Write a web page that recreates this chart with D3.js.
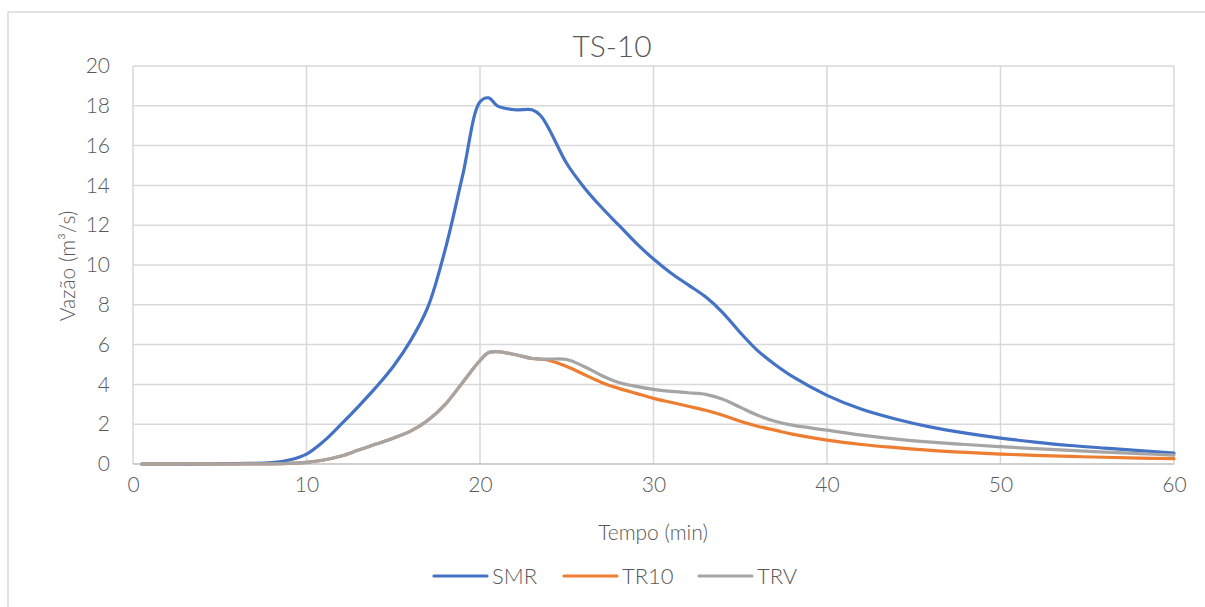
<!DOCTYPE html>
<html>
<head>
<meta charset="utf-8">
<script src="https://cdn.jsdelivr.net/npm/d3@7"></script>
<style>
  html, body { margin: 0; padding: 0; background: #fff; }
  svg { display: block; }
</style>
</head>
<body>
<svg id="chart" width="1205" height="607"></svg>
<script>
// Hydrograph data: time (min) and discharge (m³/s)
const tempo = [0.5, 2, 4, 6, 8, 9, 10, 11, 12, 13, 14, 15, 16, 17, 18, 19, 20, 20.5, 21, 22, 23, 23.5, 24, 25, 26, 27, 28, 29, 30, 31, 32, 33, 34, 35, 36, 37, 38, 40, 42, 44, 46, 48, 50, 52, 54, 56, 58, 60];
const smr  = [0, 0, 0, 0.02, 0.07, 0.2, 0.5, 1.15, 2.0, 2.9, 3.85, 4.9, 6.2, 7.9, 10.8, 14.5, 18.2, 18.4, 18.0, 17.8, 17.8, 17.5, 16.8, 15.1, 13.9, 12.9, 12.0, 11.1, 10.3, 9.6, 9.0, 8.4, 7.6, 6.6, 5.7, 5.0, 4.4, 3.45, 2.75, 2.25, 1.85, 1.55, 1.3, 1.1, 0.93, 0.8, 0.67, 0.55];
const tr10 = [0, 0, 0, 0, 0.01, 0.03, 0.08, 0.2, 0.4, 0.7, 1.0, 1.3, 1.65, 2.2, 3.0, 4.1, 5.2, 5.6, 5.65, 5.5, 5.3, 5.27, 5.2, 4.9, 4.5, 4.1, 3.8, 3.55, 3.3, 3.1, 2.9, 2.7, 2.45, 2.15, 1.9, 1.7, 1.5, 1.2, 0.98, 0.82, 0.68, 0.58, 0.5, 0.43, 0.38, 0.34, 0.3, 0.27];
const trv  = [0, 0, 0, 0, 0.01, 0.03, 0.08, 0.2, 0.4, 0.7, 1.0, 1.3, 1.65, 2.2, 3.0, 4.1, 5.2, 5.6, 5.65, 5.5, 5.3, 5.27, 5.27, 5.25, 4.9, 4.45, 4.1, 3.9, 3.75, 3.65, 3.58, 3.5, 3.25, 2.85, 2.45, 2.15, 1.95, 1.7, 1.45, 1.25, 1.1, 0.98, 0.87, 0.77, 0.68, 0.6, 0.52, 0.45];

const seriesNames = ["SMR", "TR10", "TRV"];
const seriesColors = ["#4472C4", "#ED7D31", "#A5A5A5"];
const xTicks = [0, 10, 20, 30, 40, 50, 60];
const yTicks = [0, 2, 4, 6, 8, 10, 12, 14, 16, 18, 20];

const font = "Lato, 'Open Sans', sans-serif";
const textColor = "#595959";
const textWeight = 300;

const svg = d3.select("#chart");

// Outer chart frame
svg.append("rect")
  .attr("x", 8).attr("y", 12)
  .attr("width", 1215).attr("height", 620)
  .attr("fill", "#fff")
  .attr("stroke", "#d9d9d9").attr("stroke-width", 1.5);

const plot = { left: 133, right: 1174, top: 66, bottom: 464 };

const x = d3.scaleLinear().domain([0, 60]).range([plot.left, plot.right]);
const y = d3.scaleLinear().domain([0, 20]).range([plot.bottom, plot.top]);

// Gridlines
const grid = svg.append("g");
grid.selectAll("line.h").data(yTicks.filter(d => d > 0)).enter().append("line")
  .attr("x1", plot.left).attr("x2", plot.right)
  .attr("y1", d => y(d)).attr("y2", d => y(d))
  .attr("stroke", "#d9d9d9").attr("stroke-width", 1.5);
grid.selectAll("line.v").data(xTicks).enter().append("line")
  .attr("x1", d => x(d)).attr("x2", d => x(d))
  .attr("y1", plot.top).attr("y2", plot.bottom)
  .attr("stroke", "#d9d9d9").attr("stroke-width", 1.5);

// Axis line at the bottom
svg.append("line")
  .attr("x1", plot.left).attr("x2", plot.right)
  .attr("y1", y(0)).attr("y2", y(0))
  .attr("stroke", "#bfbfbf").attr("stroke-width", 1.5);

// Axes (labels only)
const xAxis = svg.append("g")
  .attr("transform", `translate(0,${plot.bottom})`)
  .call(d3.axisBottom(x).tickValues(xTicks).tickSize(0).tickPadding(22));
const yAxis = svg.append("g")
  .attr("transform", `translate(${plot.left},0)`)
  .call(d3.axisLeft(y).tickValues(yTicks).tickSize(0).tickPadding(23));
[xAxis, yAxis].forEach(a => {
  a.select(".domain").remove();
  a.selectAll("text")
    .attr("font-family", font).attr("font-size", 21).attr("font-weight", textWeight)
    .attr("fill", textColor);
});
xAxis.selectAll("text").attr("dy", "0.3em");

// Series lines
const data = [smr, tr10, trv];
const line = d3.line()
  .x(d => x(d[0]))
  .y(d => y(d[1]))
  .curve(d3.curveCatmullRom.alpha(0.5));

data.forEach((vals, i) => {
  svg.append("path")
    .datum(tempo.map((t, k) => [t, vals[k]]))
    .attr("d", line)
    .attr("fill", "none")
    .attr("stroke", seriesColors[i])
    .attr("stroke-width", 3.2)
    .attr("stroke-linejoin", "round")
    .attr("stroke-linecap", "round");
});

// Title
svg.append("text")
  .attr("x", 612).attr("y", 57)
  .attr("text-anchor", "middle")
  .attr("font-family", font).attr("font-size", 30).attr("font-weight", textWeight)
  .attr("fill", textColor)
  .text("TS-10");

// Axis titles
svg.append("text")
  .attr("x", 653).attr("y", 540)
  .attr("text-anchor", "middle")
  .attr("font-family", font).attr("font-size", 21).attr("font-weight", textWeight)
  .attr("fill", textColor)
  .text("Tempo (min)");

svg.append("text")
  .attr("transform", "translate(75,266) rotate(-90)")
  .attr("text-anchor", "middle")
  .attr("font-family", font).attr("font-size", 21).attr("font-weight", textWeight)
  .attr("fill", textColor)
  .text("Vazão (m³/s)");

// Legend
const legendX = [434, 564, 699];
const legend = svg.append("g");
seriesNames.forEach((name, i) => {
  legend.append("line")
    .attr("x1", legendX[i]).attr("x2", legendX[i] + 53)
    .attr("y1", 576).attr("y2", 576)
    .attr("stroke", seriesColors[i]).attr("stroke-width", 3.2)
    .attr("stroke-linecap", "round");
  legend.append("text")
    .attr("x", legendX[i] + 58).attr("y", 584)
    .attr("font-family", font).attr("font-size", 22).attr("font-weight", textWeight)
    .attr("fill", textColor)
    .text(name);
});
</script>
</body>
</html>
